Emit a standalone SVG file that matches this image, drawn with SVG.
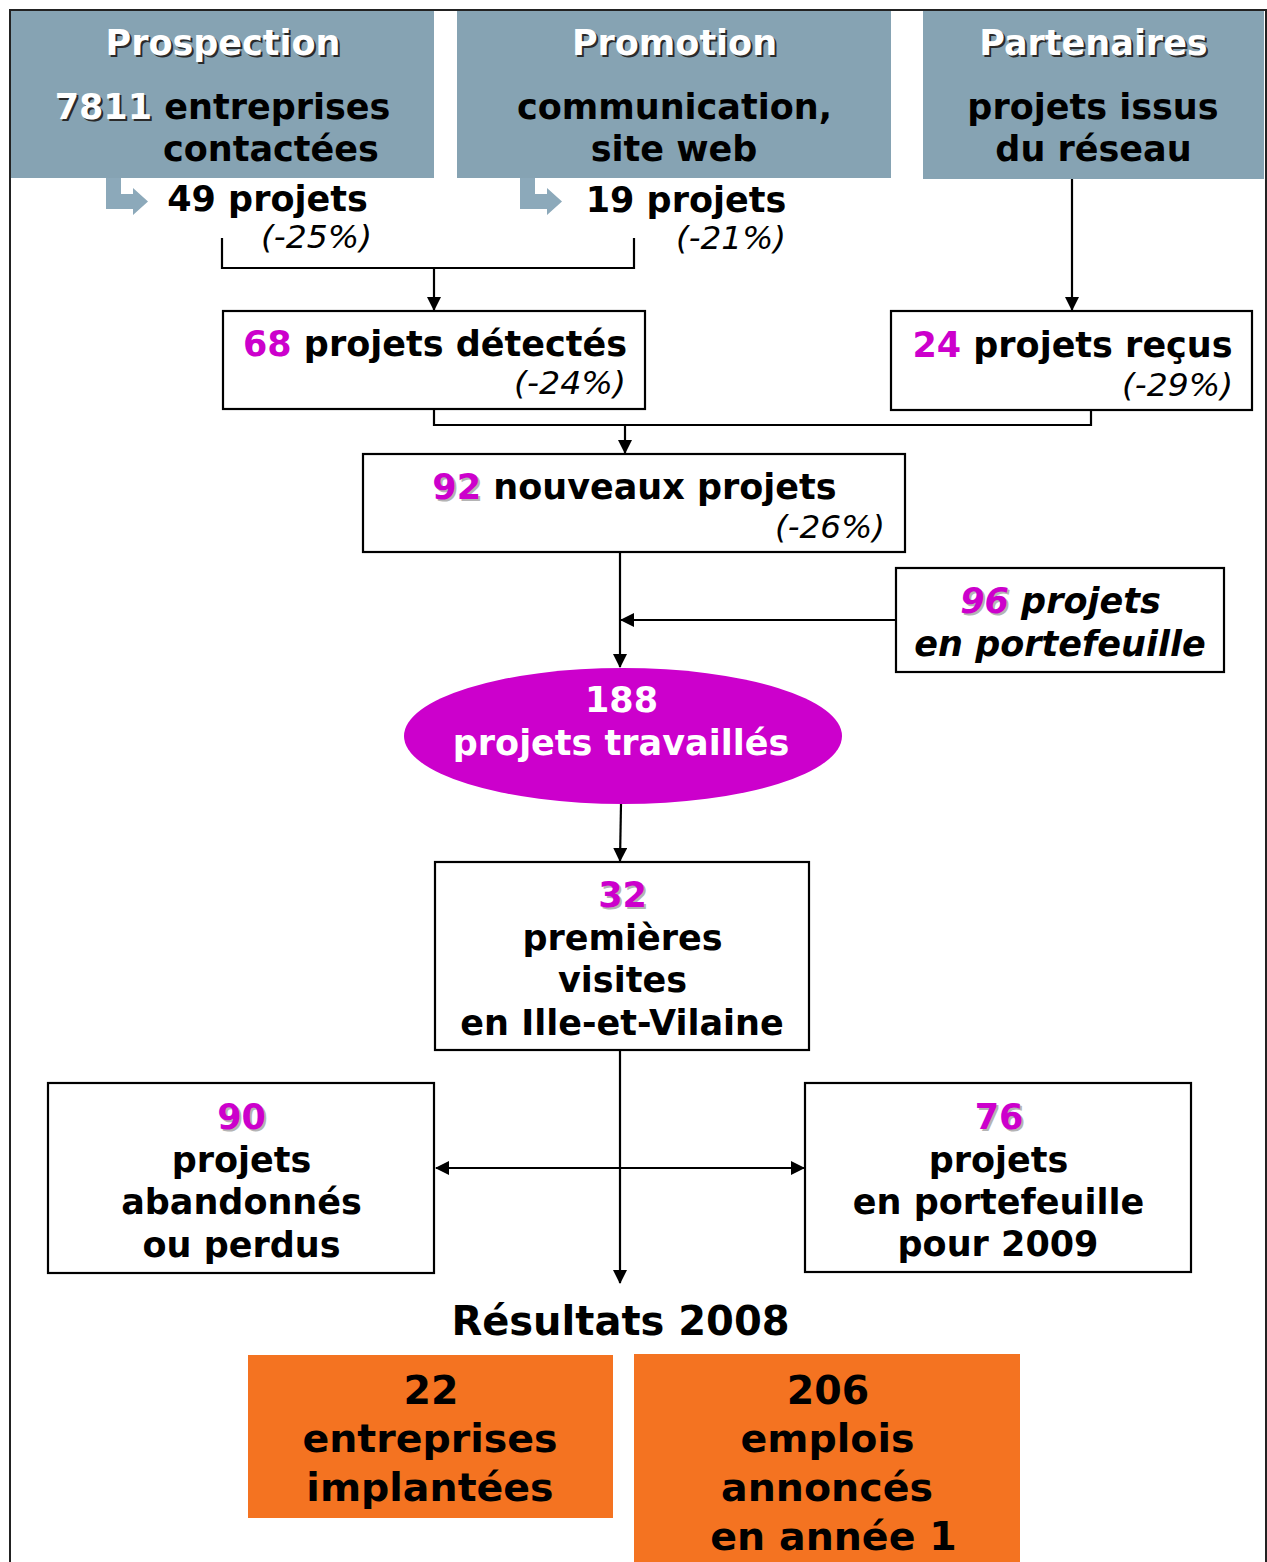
<svg xmlns="http://www.w3.org/2000/svg" width="1267" height="1562" viewBox="0 0 1267 1562">
<style>
.t{font-family:"DejaVu Sans",Verdana,sans-serif;font-weight:bold;font-size:35px;fill:#000;text-anchor:middle}
.w{fill:#fff}
.hs{fill:#2a2a2a}
.ms{fill:#b4b4b4}
.m{fill:#cc00cc}
.it{font-family:"DejaVu Sans",Verdana,sans-serif;font-style:italic;font-weight:normal;font-size:32px;fill:#000}
.bi{font-style:italic}
.o{font-size:39.5px}
.box{fill:#fff;stroke:#000;stroke-width:2.2}
.hdr{fill:#86a3b3}
.org{fill:#f47321}
.ln{fill:none;stroke:#000;stroke-width:2.2}
.ba{fill:#8ca9ba}
</style>
<defs>
<marker id="ah" markerUnits="userSpaceOnUse" markerWidth="14" markerHeight="14" refX="13" refY="7" orient="auto-start-reverse" viewBox="0 0 14 14">
<path d="M0,0 L14,7 L0,14 Z" fill="#000"/>
</marker>
</defs>
<rect x="10" y="10" width="1256" height="1580" fill="#fff" stroke="#222" stroke-width="2"/>

<g id="prospection">
<rect class="hdr" x="11" y="11" width="423" height="167"/>
<text class="t hs" x="225" y="57">Prospection</text>
<text class="t w" x="223" y="55">Prospection</text>
<text class="t hs" x="224.5" y="121"><tspan>7811</tspan><tspan fill="none"> entreprises</tspan></text>
<text class="t" x="222.5" y="119"><tspan class="w">7811</tspan> entreprises</text>
<text class="t" x="271" y="161">contactées</text>
<path class="ba" d="M106,178 H121 V194 H133 V188 L148,201.5 L133,215 V209 H106 Z"/>
<text class="t" x="267.5" y="211">49 projets</text>
<text class="it" x="316.5" y="248" text-anchor="middle" textLength="111" lengthAdjust="spacingAndGlyphs">(-25%)</text>
</g>

<g id="promotion">
<rect class="hdr" x="457" y="11" width="434" height="167"/>
<text class="t hs" x="676.5" y="57">Promotion</text>
<text class="t w" x="674.5" y="55">Promotion</text>
<text class="t" x="674.5" y="119">communication,</text>
<text class="t" x="674" y="161">site web</text>
<path class="ba" d="M520,178 H535 V194 H547 V188 L562,201.5 L547,215 V209 H520 Z"/>
<text class="t" x="686" y="212">19 projets</text>
<text class="it" x="731" y="249" text-anchor="middle" textLength="110" lengthAdjust="spacingAndGlyphs">(-21%)</text>
</g>

<g id="partenaires">
<rect class="hdr" x="923" y="11" width="341" height="168"/>
<text class="t hs" x="1095.5" y="57">Partenaires</text>
<text class="t w" x="1093.5" y="55">Partenaires</text>
<text class="t" x="1093" y="119">projets issus</text>
<text class="t" x="1093.5" y="161">du réseau</text>
</g>

<g id="detectes">
<rect class="box" x="223" y="311" width="422" height="98"/>
<text class="t" x="435" y="356"><tspan class="m">68</tspan> projets détectés</text>
<text class="it" x="626" y="394" text-anchor="end" textLength="112" lengthAdjust="spacingAndGlyphs">(-24%)</text>
</g>

<g id="recus">
<rect class="box" x="891" y="311" width="361" height="99"/>
<text class="t" x="1072.5" y="357"><tspan class="m">24</tspan> projets reçus</text>
<text class="it" x="1233" y="396" text-anchor="end" textLength="111" lengthAdjust="spacingAndGlyphs">(-29%)</text>
</g>

<g id="nouveaux">
<rect class="box" x="363" y="454" width="542" height="98"/>
<text class="t ms" x="636.5" y="501"><tspan>92</tspan><tspan fill="none"> nouveaux projets</tspan></text>
<text class="t" x="634.5" y="499"><tspan class="m">92</tspan> nouveaux projets</text>
<text class="it" x="885" y="538" text-anchor="end" textLength="110" lengthAdjust="spacingAndGlyphs">(-26%)</text>
</g>

<g id="portefeuille">
<rect class="box" x="896" y="568" width="328" height="104"/>
<text class="t bi ms" x="1062.5" y="615"><tspan>96</tspan><tspan fill="none"> projets</tspan></text>
<text class="t bi" x="1060.5" y="613"><tspan class="m">96</tspan> projets</text>
<text class="t bi" x="1060" y="656">en portefeuille</text>
</g>

<g id="travailles">
<ellipse cx="623" cy="736" rx="219" ry="68" fill="#cc00cc"/>
<text class="t w" x="621.5" y="712">188</text>
<text class="t w" x="621" y="755">projets travaillés</text>
</g>

<g id="visites">
<rect class="box" x="435" y="862" width="374" height="188"/>
<text class="t ms" x="624.5" y="909">32</text>
<text class="t m" x="622.5" y="907">32</text>
<text class="t" x="622.5" y="950">premières</text>
<text class="t" x="622.5" y="992">visites</text>
<text class="t" x="622" y="1035">en Ille-et-Vilaine</text>
</g>

<g id="abandonnes">
<rect class="box" x="48" y="1083" width="386" height="190"/>
<text class="t ms" x="243.5" y="1131">90</text>
<text class="t m" x="241.5" y="1129">90</text>
<text class="t" x="241.5" y="1172">projets</text>
<text class="t" x="241.5" y="1214">abandonnés</text>
<text class="t" x="241.5" y="1257">ou perdus</text>
</g>

<g id="portefeuille2009">
<rect class="box" x="805" y="1083" width="386" height="189"/>
<text class="t ms" x="1001" y="1131">76</text>
<text class="t m" x="999" y="1129">76</text>
<text class="t" x="998.5" y="1172">projets</text>
<text class="t" x="998.5" y="1214">en portefeuille</text>
<text class="t" x="998" y="1256">pour 2009</text>
</g>

<g id="resultats">
<text class="t" x="620.5" y="1335" style="font-size:40px">Résultats 2008</text>
</g>

<g id="entreprises">
<rect class="org" x="248" y="1355" width="365" height="163"/>
<text class="t o" x="431" y="1404">22</text>
<text class="t o" x="430" y="1452">entreprises</text>
<text class="t o" x="430" y="1501">implantées</text>
</g>

<g id="emplois">
<rect class="org" x="634" y="1354" width="386" height="210"/>
<text class="t o" x="828" y="1404">206</text>
<text class="t o" x="827.5" y="1452">emplois</text>
<text class="t o" x="827" y="1501">annoncés</text>
<text class="t o" x="833.5" y="1550">en année 1</text>
</g>

<g id="connectors">
<path class="ln" d="M222,238 V268 H634 V238"/>
<path class="ln" d="M434,268 V310" marker-end="url(#ah)"/>
<path class="ln" d="M1072,179 V310" marker-end="url(#ah)"/>
<path class="ln" d="M434,409 V425 H1091 V410"/>
<path class="ln" d="M625,425 V453" marker-end="url(#ah)"/>
<path class="ln" d="M620,552 V667" marker-end="url(#ah)"/>
<path class="ln" d="M896,620 H621" marker-end="url(#ah)"/>
<path class="ln" d="M621,804 L620,861" marker-end="url(#ah)"/>
<path class="ln" d="M620,1050 V1283" marker-end="url(#ah)"/>
<path class="ln" d="M436,1168 H804" marker-start="url(#ah)" marker-end="url(#ah)"/>
</g>
</svg>
